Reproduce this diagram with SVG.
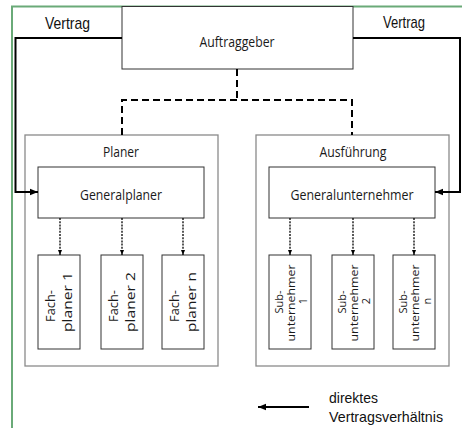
<svg xmlns="http://www.w3.org/2000/svg" width="462" height="428" viewBox="0 0 462 428">
<defs>
<marker id="ah" viewBox="0 0 10 10" refX="10" refY="5" markerWidth="4" markerHeight="4" orient="auto" markerUnits="strokeWidth"><path d="M0,1 L10,5 L0,9 z" fill="#000"/></marker>
<marker id="ahs" viewBox="0 0 10 10" refX="10" refY="5" markerWidth="5" markerHeight="5" orient="auto" markerUnits="userSpaceOnUse"><path d="M0,1 L10,5 L0,9 z" fill="#000"/></marker>
<style>
.frame{fill:none;stroke:#6aaa78;stroke-width:2}
.outer{fill:#fff;stroke:#8a8a8a;stroke-width:1.3}
.box{fill:#fff;stroke:#333;stroke-width:1}
.solid{fill:none;stroke:#000;stroke-width:2}
.dash{fill:none;stroke:#000;stroke-width:2;stroke-dasharray:7,4}
.dot{fill:none;stroke:#000;stroke-width:1.3;stroke-dasharray:2,1.2}
.c{font-family:"Open Sans","DejaVu Sans",sans-serif;fill:#1a1a1a;text-anchor:middle}
.a{font-family:"Liberation Sans",Arial,sans-serif;fill:#111}
</style>
</defs>
<rect width="462" height="428" fill="#fff"/>
<path class="frame" d="M12,428 V6.5 H462"/>

<g id="labels-vertrag">
<text class="a" x="45" y="29" font-size="17" textLength="45" lengthAdjust="spacingAndGlyphs">Vertrag</text>
<text class="a" x="383" y="28" font-size="17" textLength="42" lengthAdjust="spacingAndGlyphs">Vertrag</text>
</g>

<g id="auftraggeber">
<rect class="box" x="122" y="6.5" width="231" height="62.5" stroke="#777"/>
<text class="c" x="237" y="47" font-size="14" textLength="75" lengthAdjust="spacingAndGlyphs">Auftraggeber</text>
</g>

<g id="planer">
<rect class="outer" x="25" y="135" width="193" height="231"/>
<text class="c" x="121" y="157" font-size="15" textLength="36" lengthAdjust="spacingAndGlyphs">Planer</text>
</g>
<g id="ausfuehrung">
<rect class="outer" x="256" y="135" width="193" height="231"/>
<text class="c" x="353" y="157" font-size="15" textLength="67" lengthAdjust="spacingAndGlyphs">Ausführung</text>
</g>

<g id="generalplaner">
<rect class="box" x="38" y="167" width="166" height="51"/>
<text class="c" x="121" y="200" font-size="15" textLength="82" lengthAdjust="spacingAndGlyphs">Generalplaner</text>
</g>
<g id="generalunternehmer">
<rect class="box" x="269" y="167" width="166" height="51"/>
<text class="c" x="352" y="200" font-size="15" textLength="123" lengthAdjust="spacingAndGlyphs">Generalunternehmer</text>
</g>

<g id="fachplaner1">
<rect class="box" x="38" y="255" width="42" height="94"/>
<text class="c" font-size="12" transform="translate(55,306) rotate(-90)" textLength="32" lengthAdjust="spacingAndGlyphs">Fach-</text>
<text class="c" font-size="12" transform="translate(72,302) rotate(-90)" textLength="60" lengthAdjust="spacingAndGlyphs">planer 1</text>
</g>
<g id="fachplaner2">
<rect class="box" x="101" y="255" width="42" height="94"/>
<text class="c" font-size="12" transform="translate(118,306) rotate(-90)" textLength="32" lengthAdjust="spacingAndGlyphs">Fach-</text>
<text class="c" font-size="12" transform="translate(135,302) rotate(-90)" textLength="60" lengthAdjust="spacingAndGlyphs">planer 2</text>
</g>
<g id="fachplanern">
<rect class="box" x="162" y="255" width="42" height="94"/>
<text class="c" font-size="12" transform="translate(179,306) rotate(-90)" textLength="32" lengthAdjust="spacingAndGlyphs">Fach-</text>
<text class="c" font-size="12" transform="translate(196,302) rotate(-90)" textLength="60" lengthAdjust="spacingAndGlyphs">planer n</text>
</g>

<g id="sub1">
<rect class="box" x="269" y="255" width="42" height="94"/>
<text class="c" font-size="11" transform="translate(283,302) rotate(-90)" textLength="23" lengthAdjust="spacingAndGlyphs">Sub-</text>
<text class="c" font-size="11" transform="translate(295,303) rotate(-90)" textLength="77" lengthAdjust="spacingAndGlyphs">unternehmer</text>
<text class="c" font-size="11" transform="translate(307,301) rotate(-90)">1</text>
</g>
<g id="sub2">
<rect class="box" x="332" y="255" width="42" height="94"/>
<text class="c" font-size="11" transform="translate(346,302) rotate(-90)" textLength="23" lengthAdjust="spacingAndGlyphs">Sub-</text>
<text class="c" font-size="11" transform="translate(358,303) rotate(-90)" textLength="77" lengthAdjust="spacingAndGlyphs">unternehmer</text>
<text class="c" font-size="11" transform="translate(370,301) rotate(-90)">2</text>
</g>
<g id="subn">
<rect class="box" x="393" y="255" width="42" height="94"/>
<text class="c" font-size="11" transform="translate(407,302) rotate(-90)" textLength="23" lengthAdjust="spacingAndGlyphs">Sub-</text>
<text class="c" font-size="11" transform="translate(419,303) rotate(-90)" textLength="77" lengthAdjust="spacingAndGlyphs">unternehmer</text>
<text class="c" font-size="11" transform="translate(431,301) rotate(-90)">n</text>
</g>

<g id="connectors">
<path class="solid" d="M122,38 H15.5 V192 H38" marker-end="url(#ah)"/>
<path class="solid" d="M353,38 H460 V192 H435" marker-end="url(#ah)"/>
<path class="dash" d="M237,69 V100"/>
<path class="dash" d="M122,135 V100 H352 V135"/>
<path class="dot" d="M60,218 V255" marker-end="url(#ahs)"/>
<path class="dot" d="M122,218 V255" marker-end="url(#ahs)"/>
<path class="dot" d="M183,218 V255" marker-end="url(#ahs)"/>
<path class="dot" d="M290,218 V255" marker-end="url(#ahs)"/>
<path class="dot" d="M353,218 V255" marker-end="url(#ahs)"/>
<path class="dot" d="M414,218 V255" marker-end="url(#ahs)"/>
</g>

<g id="legend">
<path class="solid" d="M309,407 H258" marker-end="url(#ah)"/>
<text class="a" x="329" y="403" font-size="15" textLength="49" lengthAdjust="spacingAndGlyphs">direktes</text>
<text class="a" x="329" y="422" font-size="15" textLength="114" lengthAdjust="spacingAndGlyphs">Vertragsverhältnis</text>
</g>
</svg>
